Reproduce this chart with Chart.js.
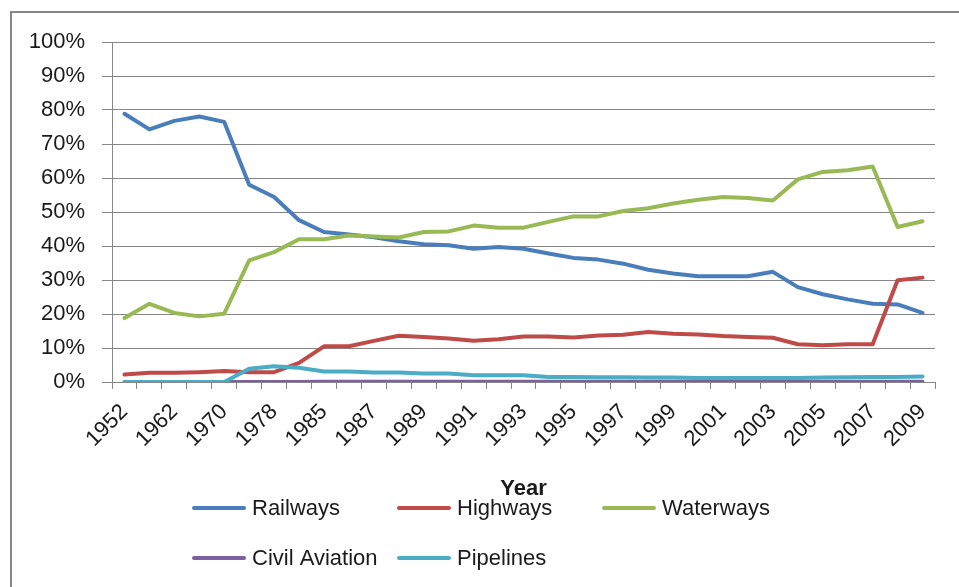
<!DOCTYPE html>
<html lang="en">
<head>
    <meta charset="UTF-8">
    <title>Freight share by mode</title>
    <script src="https://cdn.jsdelivr.net/npm/chart.js"></script>
    <style>
        body {
            margin: 0;
            background: #ffffff;
        }
        #shareChart {
            display: block;
        }
    </style>
</head>
<body>
    <canvas id="shareChart" width="959" height="587"></canvas>
    <script>
        // Years on the category axis (only every other one gets a label)
        var years = ['1952', '1957', '1962', '1965', '1970', '1975', '1978', '1980',
            '1985', '1986', '1987', '1988', '1989', '1990', '1991', '1992', '1993',
            '1994', '1995', '1996', '1997', '1998', '1999', '2000', '2001', '2002',
            '2003', '2004', '2005', '2006', '2007', '2008', '2009'];

        // Share of freight (%) for each mode
        var railways = [78.9, 74.3, 76.8, 78.1, 76.5, 58.0, 54.4, 47.6, 44.1, 43.4, 42.6,
            41.4, 40.5, 40.2, 39.2, 39.7, 39.2, 37.8, 36.5, 36.0, 34.8, 33.0, 31.9, 31.1,
            31.1, 31.1, 32.4, 27.9, 25.8, 24.3, 23.0, 22.8, 20.3];
        var highways = [2.2, 2.7, 2.7, 2.9, 3.2, 2.9, 2.9, 5.6, 10.5, 10.5, 12.1, 13.6,
            13.2, 12.8, 12.1, 12.6, 13.4, 13.4, 13.1, 13.7, 13.9, 14.7, 14.2, 14.0, 13.5,
            13.2, 13.0, 11.1, 10.8, 11.1, 11.1, 29.9, 30.7];
        var waterways = [18.8, 23.0, 20.3, 19.3, 20.1, 35.8, 38.2, 42.0, 42.0, 43.1, 42.8,
            42.5, 44.1, 44.3, 46.0, 45.4, 45.4, 47.1, 48.7, 48.7, 50.3, 51.1, 52.5, 53.6,
            54.4, 54.1, 53.4, 59.6, 61.8, 62.3, 63.4, 45.6, 47.3];
        var civilAviation = [0, 0, 0, 0, 0, 0, 0, 0, 0.1, 0.1, 0.1, 0.1, 0.1, 0.1, 0.1,
            0.1, 0.1, 0.1, 0.1, 0.1, 0.1, 0.1, 0.1, 0.1, 0.1, 0.1, 0.1, 0.1, 0.1, 0.1,
            0.1, 0.1, 0.1];
        var pipelines = [0, 0, 0, 0, 0, 3.9, 4.6, 4.2, 3.1, 3.1, 2.8, 2.8, 2.5, 2.5, 2.0,
            2.0, 2.0, 1.5, 1.5, 1.4, 1.4, 1.3, 1.3, 1.2, 1.2, 1.2, 1.2, 1.2, 1.3, 1.4,
            1.5, 1.5, 1.6];

        var yTicks = [0, 10, 20, 30, 40, 50, 60, 70, 80, 90, 100];

        var FONT = "'Liberation Sans', Arial, sans-serif";
        var GRID = '#868686';

        function series(label, data, color, order) {
            return {
                label: label,
                data: data,
                borderColor: color,
                backgroundColor: color,
                borderWidth: 4,
                pointRadius: 0,
                pointHoverRadius: 0,
                tension: 0,
                borderJoinStyle: 'round',
                borderCapStyle: 'round',
                order: order
            };
        }

        // Excel-style legend laid out as a grid, plus the outer frame
        var frameAndLegend = {
            id: 'frameAndLegend',
            afterDraw: function (chart) {
                var ctx = chart.ctx;
                ctx.save();
                ctx.strokeStyle = GRID;
                ctx.lineWidth = 2;
                ctx.strokeRect(11, 12, 1000, 1000);

                var colX = [192, 397, 602];
                var rowY = [508, 558];
                ctx.font = '22px ' + FONT;
                ctx.textBaseline = 'middle';
                ctx.textAlign = 'left';
                chart.data.datasets.forEach(function (ds, i) {
                    var x = colX[i % 3];
                    var y = rowY[Math.floor(i / 3)];
                    ctx.strokeStyle = ds.borderColor;
                    ctx.lineWidth = 4;
                    ctx.lineCap = 'round';
                    ctx.beginPath();
                    ctx.moveTo(x + 2, y);
                    ctx.lineTo(x + 52, y);
                    ctx.stroke();
                    ctx.fillStyle = '#1a1a1a';
                    ctx.fillText(ds.label, x + 60, y + 1);
                });
                ctx.restore();
            }
        };

        var ctx = document.getElementById('shareChart').getContext('2d');
        var shareChart = new Chart(ctx, {
            type: 'line',
            data: {
                labels: years,
                datasets: [
                    series('Railways', railways, '#4A7EBB', 0),
                    series('Highways', highways, '#BE4B48', -1),
                    series('Waterways', waterways, '#98B954', -2),
                    series('Civil Aviation', civilAviation, '#7D60A0', -3),
                    series('Pipelines', pipelines, '#4BACC6', -4)
                ]
            },
            options: {
                responsive: false,
                animation: false,
                devicePixelRatio: 1,
                layout: {
                    padding: { left: 12, right: 24, top: 42, bottom: 83 }
                },
                plugins: {
                    legend: { display: false },
                    tooltip: { enabled: false }
                },
                scales: {
                    x: {
                        offset: true,
                        afterFit: function (scale) { scale.height = 122; },
                        grid: {
                            drawOnChartArea: false,
                            drawTicks: true,
                            tickLength: 7,
                            color: GRID,
                            offset: true
                        },
                        border: { color: GRID, width: 1 },
                        ticks: {
                            autoSkip: false,
                            minRotation: 45,
                            maxRotation: 45,
                            padding: 10,
                            color: '#1a1a1a',
                            font: { family: FONT, size: 22 },
                            callback: function (value, index) {
                                return index % 2 === 0 ? years[index] : '';
                            }
                        },
                        title: {
                            display: true,
                            text: 'Year',
                            color: '#1a1a1a',
                            font: { family: FONT, size: 22, weight: 'bold' },
                            padding: { top: 0, bottom: 2 }
                        }
                    },
                    y: {
                        min: yTicks[0],
                        max: yTicks[yTicks.length - 1],
                        afterFit: function (scale) { scale.width = 100; },
                        afterBuildTicks: function (scale) {
                            scale.ticks = yTicks.map(function (v) { return { value: v }; });
                        },
                        grid: {
                            color: GRID,
                            lineWidth: 1,
                            tickLength: 10
                        },
                        border: { color: GRID, width: 1 },
                        ticks: {
                            padding: 17,
                            color: '#1a1a1a',
                            font: { family: FONT, size: 22 },
                            callback: function (value) { return value + '%'; }
                        }
                    }
                }
            },
            plugins: [frameAndLegend]
        });
    </script>
</body>
</html>
